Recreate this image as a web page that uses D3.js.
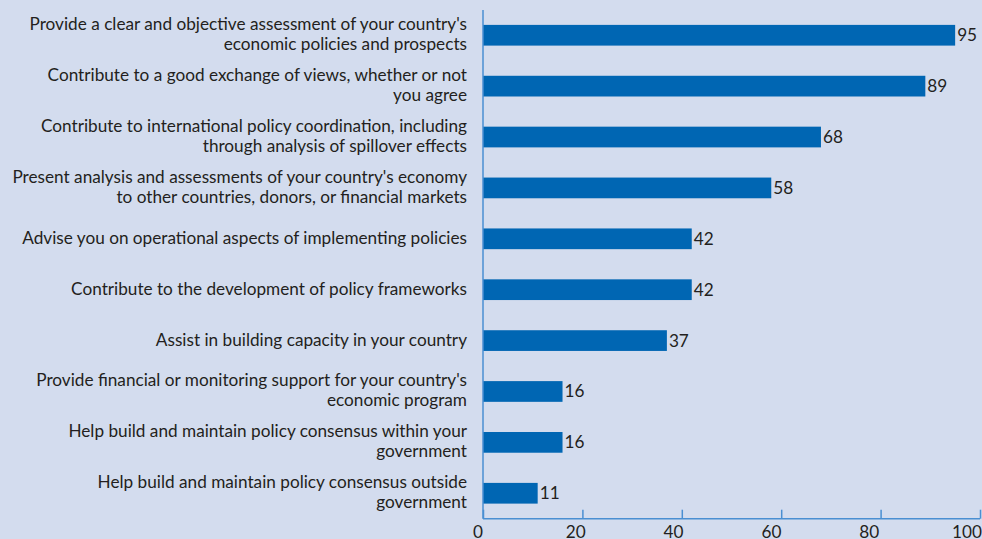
<!DOCTYPE html>
<html>
<head>
<meta charset="utf-8">
<script src="https://cdn.jsdelivr.net/npm/d3@7"></script>
<style>
  html, body { margin: 0; padding: 0; background: #d3dcee; }
  svg { display: block; }
  text { font-family: Lato, "Open Sans", sans-serif; fill: #231f20; }
</style>
</head>
<body>
<svg id="chart" width="982" height="539"></svg>
<script>
// Survey responses: share of respondents (%) by role
const categories = [
  ["Provide a clear and objective assessment of your country's", "economic policies and prospects"],
  ["Contribute to a good exchange of views, whether or not", "you agree"],
  ["Contribute to international policy coordination, including", "through analysis of spillover effects"],
  ["Present analysis and assessments of your country's economy", "to other countries, donors, or financial markets"],
  ["Advise you on operational aspects of implementing policies"],
  ["Contribute to the development of policy frameworks"],
  ["Assist in building capacity in your country"],
  ["Provide financial or monitoring support for your country's", "economic program"],
  ["Help build and maintain policy consensus within your", "government"],
  ["Help build and maintain policy consensus outside", "government"]
];
const values = [95, 89, 68, 58, 42, 42, 37, 16, 16, 11];
const tickValues = [0, 20, 40, 60, 80, 100];

const svg = d3.select("#chart");
const fontSize = 17.2;

const x = d3.scaleLinear().domain([0, 100]).range([483, 980]);
const y = d3.scaleBand()
  .domain(d3.range(categories.length))
  .range([9.8, 518.7])
  .paddingInner(0.593)
  .paddingOuter(0.2965);

// Bars
svg.append("g").selectAll("rect")
  .data(values)
  .join("rect")
  .attr("x", x(0))
  .attr("y", (d, i) => y(i))
  .attr("width", d => x(d) - x(0))
  .attr("height", y.bandwidth())
  .attr("fill", "#0066b3");

// Value labels
svg.append("g").selectAll("text")
  .data(values)
  .join("text")
  .attr("x", d => x(d) + 2)
  .attr("y", (d, i) => y(i) + y.bandwidth() / 2 + 6)
  .attr("font-size", fontSize)
  .text(d => d);

// Category labels, right aligned, wrapped onto up to two lines
const labels = svg.append("g").selectAll("text")
  .data(categories)
  .join("text")
  .attr("text-anchor", "end")
  .attr("font-size", fontSize)
  .attr("y", (d, i) => {
    const c = y(i) + y.bandwidth() / 2;
    return d.length > 1 ? c - 5 : c + 5;
  });
labels.selectAll("tspan")
  .data(d => d)
  .join("tspan")
  .attr("x", 467)
  .attr("dy", (d, j) => j === 0 ? 0 : 20)
  .text(d => d);

// Axes
const axisColor = "#4a8fd2";
const xAxis = svg.append("g")
  .attr("transform", `translate(0,${y.range()[1]})`)
  .call(d3.axisTop(x).tickValues(tickValues).tickSize(9).tickFormat(""));
xAxis.select(".domain").remove();
xAxis.selectAll(".tick line").attr("stroke", axisColor).attr("stroke-width", 1.5);

svg.append("line")
  .attr("x1", x(0)).attr("x2", x(100))
  .attr("y1", y.range()[1]).attr("y2", y.range()[1])
  .attr("stroke", axisColor).attr("stroke-width", 1.5);

svg.append("line")
  .attr("x1", x(0)).attr("x2", x(0))
  .attr("y1", 10).attr("y2", y.range()[1])
  .attr("stroke", axisColor).attr("stroke-width", 1.5);

// Tick labels, placed through their own scale slightly left of each tick
const xLabel = d3.scaleLinear().domain([0, 100]).range([478, 967]);
svg.append("g").selectAll("text")
  .data(tickValues)
  .join("text")
  .attr("x", d => xLabel(d))
  .attr("y", 538)
  .attr("text-anchor", "middle")
  .attr("font-size", fontSize)
  .text(d => d);
</script>
</body>
</html>
